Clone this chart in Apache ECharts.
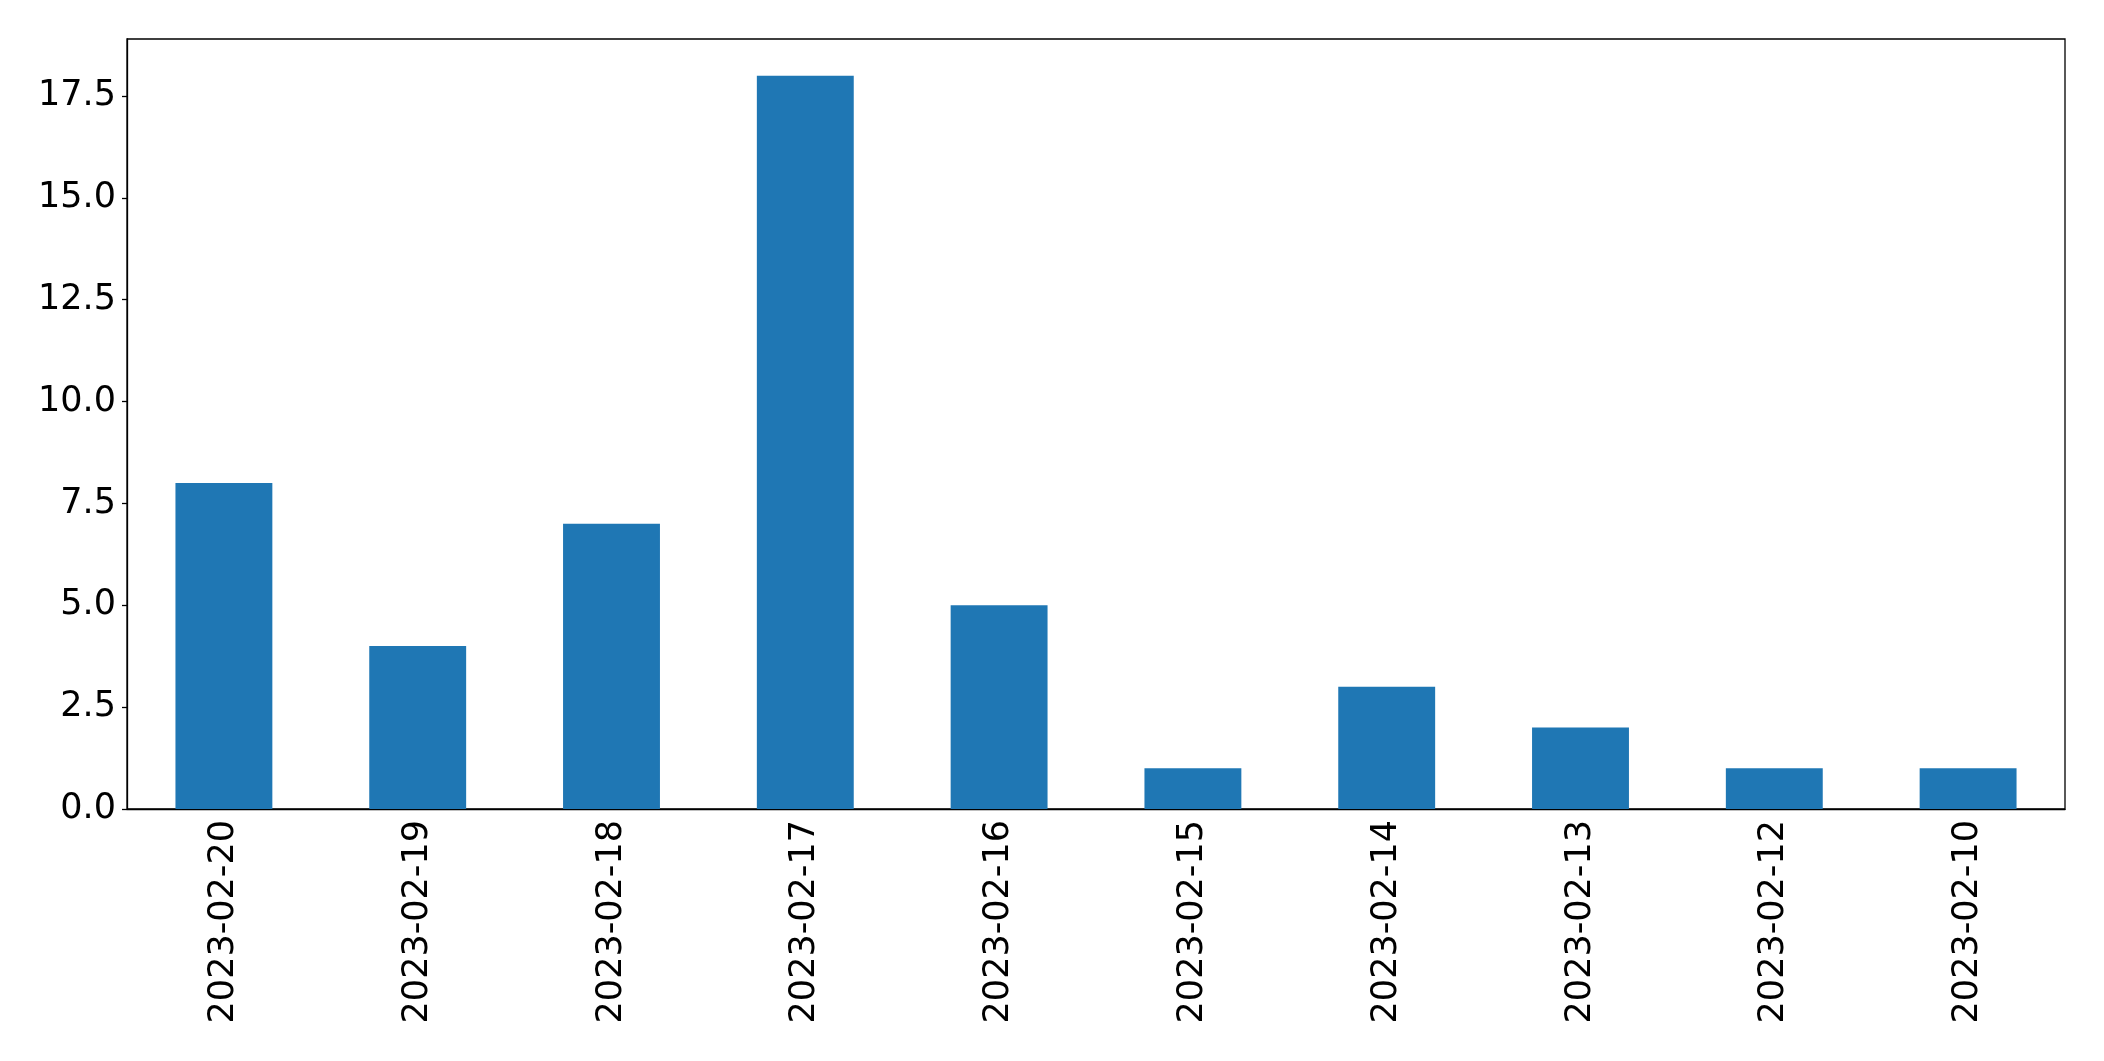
<!DOCTYPE html>
<html><head><meta charset="utf-8">
<script src="https://cdn.jsdelivr.net/npm/echarts@6/dist/echarts.min.js"></script>
<style>html,body{margin:0;padding:0;background:#fff}#c{width:2104px;height:1061px}</style>
</head><body><div id="c"></div>
<script>
const categories = ['2023-02-20','2023-02-19','2023-02-18','2023-02-17','2023-02-16','2023-02-15','2023-02-14','2023-02-13','2023-02-12','2023-02-10'];
const values = [8,4,7,18,5,1,3,2,1,1];
const yTicks = [0,2.5,5,7.5,10,12.5,15,17.5];

const chart = echarts.init(document.getElementById('c'), null, {renderer:'canvas'});
chart.setOption({
  animation:false,
  grid:{left:127,top:39,width:1938,height:770,show:true,borderColor:'#000',borderWidth:1.3,backgroundColor:'transparent'},
  xAxis:{type:'category',data:categories,
    axisLine:{lineStyle:{color:'#000',width:1.3}},
    axisTick:{alignWithLabel:true,length:5,lineStyle:{color:'#000',width:1.3}},
    axisLabel:{rotate:90,margin:11,color:'#000',fontSize:35,fontFamily:'DejaVu Sans'},
    splitLine:{show:false}},
  yAxis:{type:'value',min:0,max:18.9,interval:2.5,
    axisLine:{show:true,lineStyle:{color:'#000',width:1.3}},
    axisTick:{show:true,length:5,customValues:yTicks,lineStyle:{color:'#000',width:1.3}},
    axisLabel:{margin:11,color:'#000',fontSize:35,fontFamily:'DejaVu Sans',customValues:yTicks,
      formatter:v=>v.toFixed(1)},
    splitLine:{show:false}},
  series:[{type:'bar',data:values,barWidth:'50%',itemStyle:{color:'#1f77b4'}}]
});
</script></body></html>
